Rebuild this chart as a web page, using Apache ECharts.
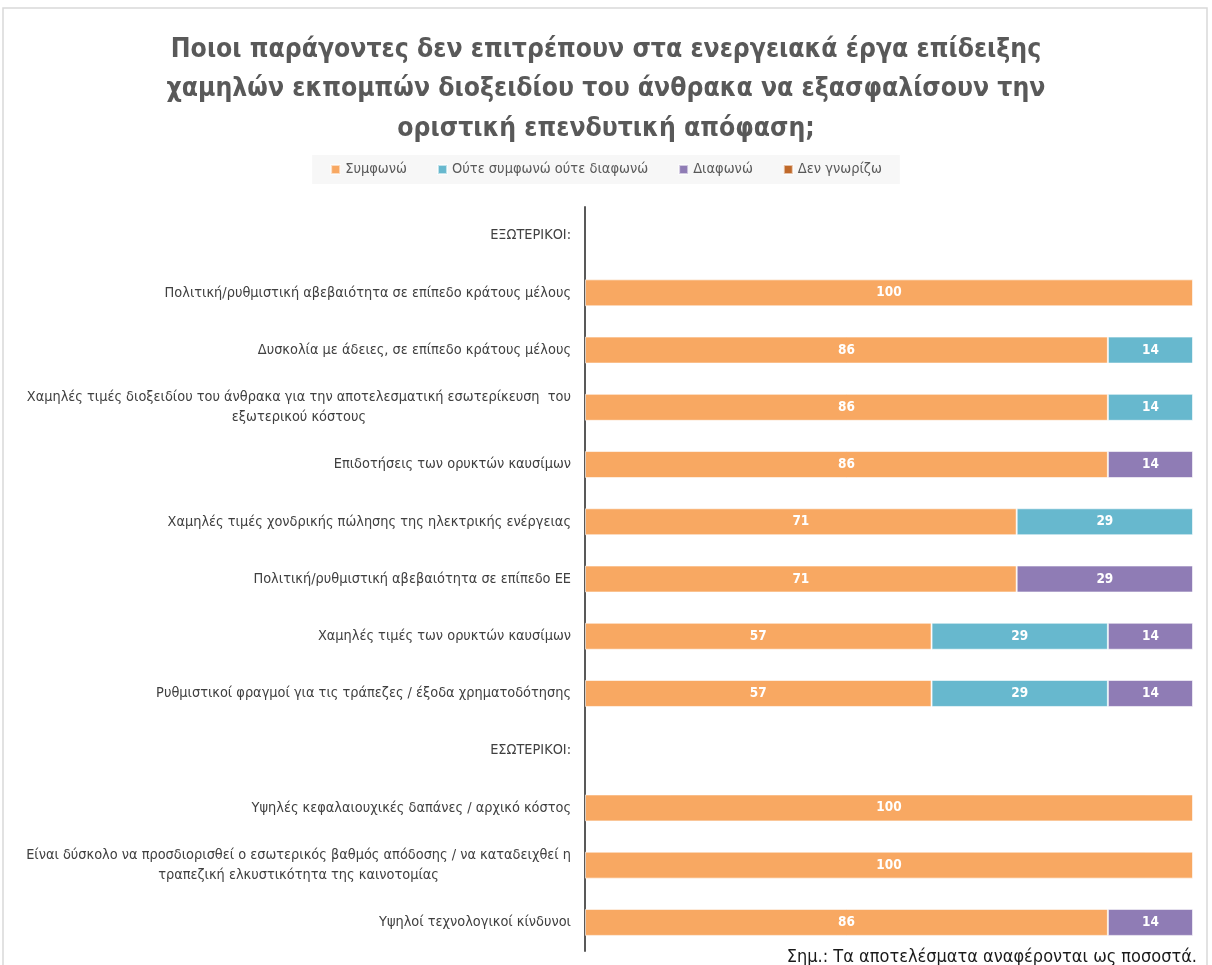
<!DOCTYPE html>
<html>
<head>
<meta charset="utf-8">
<script src="https://cdn.jsdelivr.net/npm/echarts@6/dist/echarts.min.js"></script>
<style>html,body{margin:0;padding:0;background:#fff}#c{width:1212px;height:965px}</style>
</head>
<body>
<div id="c"></div>
<script>
const categories = [
  "ΕΞΩΤΕΡΙΚΟΙ:",
  "Πολιτική/ρυθμιστική αβεβαιότητα σε επίπεδο κράτους μέλους",
  "Δυσκολία με άδειες, σε επίπεδο κράτους μέλους",
  "Χαμηλές τιμές διοξειδίου του άνθρακα για την αποτελεσματική εσωτερίκευση  του\nεξωτερικού κόστους",
  "Επιδοτήσεις των ορυκτών καυσίμων",
  "Χαμηλές τιμές χονδρικής πώλησης της ηλεκτρικής ενέργειας",
  "Πολιτική/ρυθμιστική αβεβαιότητα σε επίπεδο ΕΕ",
  "Χαμηλές τιμές των ορυκτών καυσίμων",
  "Ρυθμιστικοί φραγμοί για τις τράπεζες / έξοδα χρηματοδότησης",
  "ΕΣΩΤΕΡΙΚΟΙ:",
  "Υψηλές κεφαλαιουχικές δαπάνες / αρχικό κόστος",
  "Είναι δύσκολο να προσδιορισθεί ο εσωτερικός βαθμός απόδοσης / να καταδειχθεί η\nτραπεζική ελκυστικότητα της καινοτομίας",
  "Υψηλοί τεχνολογικοί κίνδυνοι"
];
const seriesNames = ["Συμφωνώ", "Ούτε συμφωνώ ούτε διαφωνώ", "Διαφωνώ", "Δεν γνωρίζω"];
const agree    = [null, 100, 86, 86, 86, 71, 71, 57, 57, null, 100, 100, 86];
const neutral  = [null, null, 14, 14, null, 29, null, 29, 29, null, null, null, null];
const disagree = [null, null, null, null, 14, null, 29, 14, 14, null, null, null, 14];
const dontKnow = [null, null, null, null, null, null, null, null, null, null, null, null, null];
const titleText = "Ποιοι παράγοντες δεν επιτρέπουν στα ενεργειακά έργα επίδειξης\nχαμηλών εκπομπών διοξειδίου του άνθρακα να εξασφαλίσουν την\nοριστική επενδυτική απόφαση;";
const noteText = "Σημ.: Τα αποτελέσματα αναφέρονται ως ποσοστά.";

const colors = ["#F8A862", "#67B8CE", "#8F7CB5", "#C0692A"];
const FONT = "'DejaVu Sans Condensed','Noto Sans',sans-serif";

function mk(i, data) {
  return {
    name: seriesNames[i], type: 'bar', stack: 's', data: data, barWidth: 27,
    itemStyle: { color: colors[i], borderColor: 'rgba(255,255,255,0.6)', borderWidth: 1 },
    label: { show: true, position: 'inside', color: '#fff', fontWeight: 'bold', fontSize: 13.5, fontFamily: FONT,
      formatter: p => (p.value ? p.value : '') },
    emphasis: { disabled: true }
  };
}

const chart = echarts.init(document.getElementById('c'), null, { renderer: 'canvas' });
chart.setOption({
  animation: false,
  title: [{
    text: titleText, left: 'center', top: 25,
    textStyle: { fontSize: 26.3, fontWeight: 'bold', color: '#595959', lineHeight: 39.5, fontFamily: FONT }
  }],
  legend: {
    top: 155, left: 'center', itemWidth: 9, itemHeight: 9, itemGap: 30, icon: 'rect',
    backgroundColor: '#F7F7F7', padding: [7, 18, 7, 18],
    textStyle: { fontSize: 14.5, color: '#595959', fontFamily: FONT },
    data: seriesNames
  },
  graphic: [{
    type: 'rect', shape: { x: 3, y: 8, width: 1204, height: 1000 },
    style: { fill: 'none', stroke: '#D9D9D9', lineWidth: 1.5 }, z: -1
  }, {
    type: 'text', x: 1197, y: 957,
    style: { text: noteText, align: 'right', verticalAlign: 'middle', fontSize: 18, fill: '#1a1a1a', fontFamily: FONT }
  }],
  grid: { left: 585, right: 19, top: 207, bottom: 14 },
  xAxis: { type: 'value', min: 0, max: 100, show: false },
  yAxis: {
    type: 'category', inverse: true, data: categories,
    axisLine: { show: true, lineStyle: { color: '#595959', width: 2 } },
    axisTick: { show: false },
    axisLabel: {
      margin: 14, fontSize: 14.4, color: '#404040', fontFamily: FONT, lineHeight: 20,
      formatter: v => v.split('\n').map(s => '{c|' + s + '}').join('\n'),
      rich: { c: { align: 'center', fontSize: 14.4, color: '#404040', fontFamily: FONT, lineHeight: 20 } }
    }
  },
  series: [mk(0, agree), mk(1, neutral), mk(2, disagree), mk(3, dontKnow)]
});
</script>
</body>
</html>
